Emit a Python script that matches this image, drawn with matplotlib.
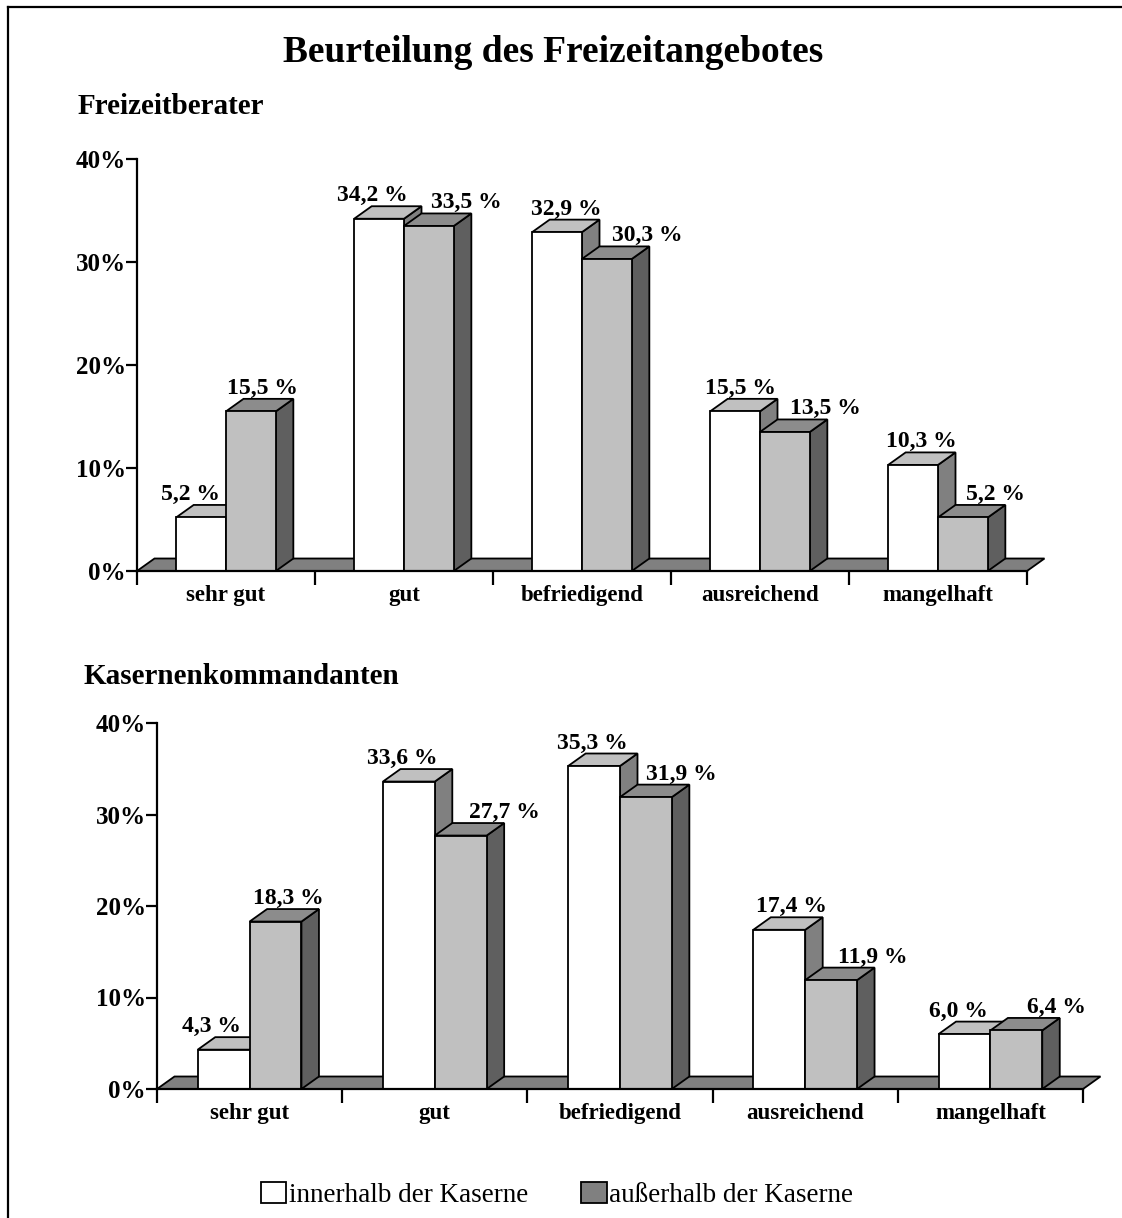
import matplotlib.pyplot as plt
from matplotlib.patches import Polygon, Patch
from matplotlib.lines import Line2D
from matplotlib.ticker import FuncFormatter

plt.rcParams['font.family'] = ['Liberation Serif', 'DejaVu Serif']
plt.rcParams['font.weight'] = 'bold'

# data
categories = ["sehr gut", "gut", "befriedigend", "ausreichend", "mangelhaft"]
series_names = ["innerhalb der Kaserne", "außerhalb der Kaserne"]

berater_innen = [5.2, 34.2, 32.9, 15.5, 10.3]
berater_aussen = [15.5, 33.5, 30.3, 13.5, 5.2]

kommandanten_innen = [4.3, 33.6, 35.3, 17.4, 6.0]
kommandanten_aussen = [18.3, 27.7, 31.9, 11.9, 6.4]

# sideways nudges (pixels) for the value labels, as in the original layout
nudge_berater_innen = [-19, -15, 0, -3, 0]
nudge_berater_aussen = [3, 29, 32, 32, 24]
nudge_kommandanten_innen = [-21, -15, -10, 3, -15]
nudge_kommandanten_aussen = [4, 35, 27, 33, 31]

# colours: (front, top, side)
COL_IN = ("white", "#c0c0c0", "#808080")
COL_OUT = ("#c0c0c0", "#8c8c8c", "#5f5f5f")
FLOOR = "#808080"
BAR_W = 0.28
DEPTH_PX = (17.5, 12.5)
YMAX = 40


def fmt_val(v):
    return f"{v:.1f} %".replace(".", ",")


def draw_chart(ax, vals_in, vals_out, nud_in, nud_out):
    n = len(categories)
    ax.set_xlim(0, n)
    ax.set_ylim(0, YMAX)
    bb = ax.get_window_extent()
    dx = DEPTH_PX[0] * n / bb.width
    dy = DEPTH_PX[1] * YMAX / bb.height

    # floor
    ax.add_patch(Polygon([(0, 0), (n, 0), (n + dx, dy), (dx, dy)], closed=True,
                         fc=FLOOR, ec="black", lw=1.3, clip_on=False, zorder=1))

    centers = [i + 0.5 for i in range(n)]
    for j, (vals, cols, nud) in enumerate([(vals_in, COL_IN, nud_in),
                                           (vals_out, COL_OUT, nud_out)]):
        lefts = [c - BAR_W + j * BAR_W for c in centers]
        bars = ax.bar(lefts, vals, width=BAR_W, align="edge", color=cols[0],
                      edgecolor="black", linewidth=1.3)
        for i, (bar, v) in enumerate(zip(bars, vals)):
            z = 2 + i * 10 + j * 4
            x0 = lefts[i]
            x1 = x0 + BAR_W
            ax.add_patch(Polygon([(x1, 0), (x1 + dx, dy), (x1 + dx, v + dy), (x1, v)],
                                 closed=True, fc=cols[2], ec="black", lw=1.3,
                                 zorder=z, clip_on=False))
            ax.add_patch(Polygon([(x0, v), (x1, v), (x1 + dx, v + dy), (x0 + dx, v + dy)],
                                 closed=True, fc=cols[1], ec="black", lw=1.3,
                                 zorder=z + 1, clip_on=False))
            bar.set_zorder(z + 2)
            ax.annotate(fmt_val(v), xy=(x0 + BAR_W / 2 + dx / 2, v + dy),
                        xytext=(nud[i], 5), textcoords="offset pixels",
                        ha="center", va="baseline", fontsize=17,
                        fontweight="bold", zorder=50, annotation_clip=False)

    for s in ["top", "right"]:
        ax.spines[s].set_visible(False)
    for s in ["left", "bottom"]:
        ax.spines[s].set_linewidth(1.6)
        ax.spines[s].set_zorder(60)

    ax.set_yticks(range(0, YMAX + 1, 10))
    ax.yaxis.set_major_formatter(FuncFormatter(lambda v, p: f"{int(v)}%"))
    ax.tick_params(axis="y", length=8, width=1.6, pad=0, labelsize=18)
    ax.set_xticks(range(n + 1))
    ax.set_xticklabels([])
    ax.tick_params(axis="x", which="major", length=10, width=1.6)
    ax.set_xticks(centers, minor=True)
    ax.set_xticklabels(categories, minor=True, fontsize=16.5, fontweight="bold")
    ax.tick_params(axis="x", which="minor", length=0, pad=10)
    ax.patch.set_visible(False)


W, H = 1122, 1218
fig = plt.figure(figsize=(W / 100, H / 100), dpi=100)

ax1 = fig.add_axes([137 / W, (H - 571) / H, 890 / W, 412 / H])
draw_chart(ax1, berater_innen, berater_aussen, nudge_berater_innen, nudge_berater_aussen)

ax2 = fig.add_axes([157 / W, (H - 1089) / H, 926 / W, 366 / H])
draw_chart(ax2, kommandanten_innen, kommandanten_aussen,
           nudge_kommandanten_innen, nudge_kommandanten_aussen)

fig.text(553 / W, 1 - 53 / H, "Beurteilung des Freizeitangebotes",
         ha="center", va="center", fontsize=27, fontweight="bold")
fig.text(78 / W, 1 - 107 / H, "Freizeitberater", ha="left", va="center",
         fontsize=21, fontweight="bold")
fig.text(84 / W, 1 - 677 / H, "Kasernenkommandanten", ha="left", va="center",
         fontsize=21, fontweight="bold")

handles = [Patch(facecolor="white", edgecolor="black", linewidth=1.3),
           Patch(facecolor="#808080", edgecolor="black", linewidth=1.3)]
fig.legend(handles, series_names, loc="center", bbox_to_anchor=(557 / W, 1 - 1195 / H),
           ncol=2, frameon=False, handlelength=0.95, handleheight=0.8,
           handletextpad=0.1, columnspacing=1.95,
           prop={"family": "Liberation Serif", "weight": "normal", "size": 19.5})

# frame around the figure (left and top only visible)
fig.add_artist(Line2D([8 / W, 8 / W], [0, 1 - 7 / H], transform=fig.transFigure,
                      color="black", lw=1.6))
fig.add_artist(Line2D([8 / W, 1], [1 - 7 / H, 1 - 7 / H], transform=fig.transFigure,
                      color="black", lw=1.6))

fig.savefig("out.png", dpi=100)
